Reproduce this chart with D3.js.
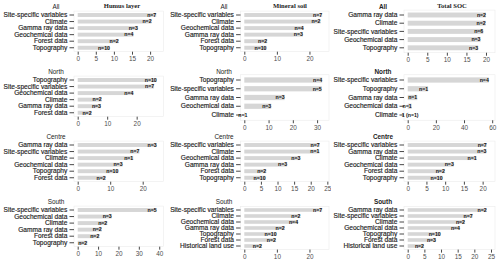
<!DOCTYPE html>
<html>
<head>
<meta charset="utf-8">
<script src="https://cdn.jsdelivr.net/npm/d3@7"></script>
<style>
  body { margin: 0; background: #fff; }
  svg { display: block; }
  text { font-family: "Liberation Sans", Arial, sans-serif; }
</style>
</head>
<body>
<div id="chart"></div>
<script>
// ---- data ----
const columnTitles = ["Humus layer", "Mineral soil", "Total SOC"];
const regions = ["All", "North", "Centre", "South"];

// Humus layer
const humusAllCats = ["Site-specific variables", "Climate", "Gamma ray data", "Geochemical data", "Forest data", "Topography"];
const humusAllVals = [21.7, 20.4, 16.6, 15.4, 11.3, 8.9];
const humusAllN = ["n=7", "n=2", "n=3", "n=4", "n=2", "n=10"];

const humusNorthCats = ["Topography", "Site-specific variables", "Geochemical data", "Climate", "Gamma ray data", "Forest data"];
const humusNorthVals = [26.8, 25.9, 18.9, 8.1, 7.9, 4.7];
const humusNorthN = ["n=10", "n=7", "n=4", "n=2", "n=3", "n=2"];

const humusCentreCats = ["Gamma ray data", "Site-specific variables", "Climate", "Geochemical data", "Topography", "Forest data"];
const humusCentreVals = [24.3, 19.0, 17.1, 13.8, 12.5, 8.6];
const humusCentreN = ["n=3", "n=7", "n=1", "n=3", "n=10", "n=2"];

const humusSouthCats = ["Site-specific variables", "Geochemical data", "Climate", "Gamma ray data", "Forest data", "Topography"];
const humusSouthVals = [38.7, 16.7, 14.5, 11.8, 10.6, 4.7];
const humusSouthN = ["n=5", "n=3", "n=2", "n=2", "n=2", "n=2"];

// Mineral soil
const mineralAllCats = ["Site-specific variables", "Climate", "Geochemical data", "Gamma ray data", "Forest data", "Topography"];
const mineralAllVals = [23.9, 23.4, 18.2, 18.0, 7.0, 6.8];
const mineralAllN = ["n=7", "n=2", "n=4", "n=3", "n=2", "n=10"];

const mineralNorthCats = ["Topography", "Site-specific variables", "Gamma ray data", "Geochemical data", "Climate"];
const mineralNorthVals = [32.1, 31.9, 16.6, 11.1, 0.3];
const mineralNorthN = ["n=4", "n=5", "n=3", "n=3", "n=1"];

const mineralCentreCats = ["Site-specific variables", "Climate", "Geochemical data", "Gamma ray data", "Forest data", "Topography"];
const mineralCentreVals = [22.7, 22.6, 16.9, 12.9, 6.6, 6.4];
const mineralCentreN = ["n=7", "n=1", "n=3", "n=3", "n=2", "n=10"];

const mineralSouthCats = ["Site-specific variables", "Climate", "Geochemical data", "Gamma ray data", "Topography", "Forest data", "Historical land use"];
const mineralSouthVals = [23.9, 17.2, 16.5, 12.4, 9.9, 9.7, 5.4];
const mineralSouthN = ["n=7", "n=2", "n=4", "n=2", "n=10", "n=2", "n=2"];

// Total SOC
const socAllCats = ["Gamma ray data", "Climate", "Site-specific variables", "Geochemical data", "Topography"];
const socAllVals = [20.0, 19.9, 19.3, 18.6, 18.0];
const socAllN = ["n=2", "n=2", "n=6", "n=3", "n=3"];

const socNorthCats = ["Site-specific variables", "Topography", "Gamma ray data", "Geochemical data", "Climate"];
const socNorthVals = [57.6, 14.5, 6.8, 2.8, 0.5];
const socNorthN = ["n=4", "n=1", "n=1", "n=1", "1 (n=1)"];

const socCentreCats = ["Site-specific variables", "Gamma ray data", "Climate", "Geochemical data", "Forest data", "Topography"];
const socCentreVals = [21.1, 21.0, 18.4, 12.3, 9.9, 9.3];
const socCentreN = ["n=7", "n=3", "n=1", "n=3", "n=2", "n=10"];

const socSouthCats = ["Gamma ray data", "Site-specific variables", "Climate", "Geochemical data", "Topography", "Forest data", "Historical land use"];
const socSouthVals = [23.7, 19.5, 17.2, 15.7, 9.9, 8.5, 4.9];
const socSouthN = ["n=2", "n=7", "n=2", "n=4", "n=10", "n=3", "n=2"];

// x axis domain max and ticks for each panel
const xMax = [
  [23.7, 29.1, 26.4, 42.1],
  [26.0, 34.9, 25.5, 26.0],
  [22.3, 62.0, 23.3, 26.2]
];
const xTicks = [
  [[0, 5, 10, 15, 20], [0, 10, 20], [0, 10, 20], [0, 10, 20, 30, 40]],
  [[0, 10, 20], [0, 10, 20, 30], [0, 5, 10, 15, 20, 25], [0, 10, 20]],
  [[0, 5, 10, 15, 20], [0, 20, 40, 60], [0, 5, 10, 15, 20], [0, 5, 10, 15, 20, 25]]
];

const panelData = [
  [[humusAllCats, humusAllVals, humusAllN], [humusNorthCats, humusNorthVals, humusNorthN],
   [humusCentreCats, humusCentreVals, humusCentreN], [humusSouthCats, humusSouthVals, humusSouthN]],
  [[mineralAllCats, mineralAllVals, mineralAllN], [mineralNorthCats, mineralNorthVals, mineralNorthN],
   [mineralCentreCats, mineralCentreVals, mineralCentreN], [mineralSouthCats, mineralSouthVals, mineralSouthN]],
  [[socAllCats, socAllVals, socAllN], [socNorthCats, socNorthVals, socNorthN],
   [socCentreCats, socCentreVals, socCentreN], [socSouthCats, socSouthVals, socSouthN]]
];

// ---- layout ----
const W = 500, H = 264;
const cols = [
  { left: 0,   x0: 77.7,  right: 163.5, regionX: 56,  titleX: 122, boldRegion: false },
  { left: 166, x0: 244.3, right: 329,   regionX: 224, titleX: 290, boldRegion: false },
  { left: 331, x0: 407.7, right: 495,   regionX: 383, titleX: 452, boldRegion: true }
];
const rowY = [0, 65, 130, 195];

function stepFor(n, r) {
  if (n === 5) return r === 0 ? 8.2 : 8.75;
  if (n === 7) return 6.0;
  return 6.55;
}

const svg = d3.select("#chart").append("svg")
  .attr("width", W)
  .attr("height", H);

svg.append("rect").attr("width", W).attr("height", H).attr("fill", "#fff");

cols.forEach((c, ci) => {
  const g = svg.append("g").attr("class", "col");
  g.append("rect")
    .attr("x", c.left).attr("y", 0)
    .attr("width", (ci < 2 ? cols[ci + 1].left : W) - c.left)
    .attr("height", H)
    .attr("fill", "#fff");

  g.append("text")
    .attr("x", c.titleX).attr("y", 7.5)
    .attr("text-anchor", "middle")
    .style("font-family", "'Liberation Serif', 'Times New Roman', serif")
    .style("font-weight", "bold")
    .style("font-size", "6.6px")
    .attr("fill", "#222")
    .text(columnTitles[ci]);

  rowY.forEach((ry, ri) => {
    const [cats, vals, labels] = panelData[ci][ri];
    const n = cats.length;
    const s = stepFor(n, ri);
    const top = ry + 15 - 0.6 * s;
    const bottom = top + s * (n + 0.2);
    const panelLeft = c.x0 - 3.7;

    const x = d3.scaleLinear()
      .domain([0, xMax[ci][ri]])
      .range([c.x0, c.right]);

    const y = d3.scaleBand()
      .domain(cats)
      .range([top, bottom])
      .paddingInner(0.4)
      .paddingOuter(0.3);

    const p = g.append("g").attr("class", "panel");

    // region label
    p.append("text")
      .attr("x", c.regionX).attr("y", ry + 8.5)
      .attr("text-anchor", "middle")
      .style("font-size", "6.4px")
      .style("font-weight", c.boldRegion ? "bold" : "normal")
      .attr("fill", "#222")
      .text(regions[ri]);

    // panel box
    p.append("rect")
      .attr("x", panelLeft).attr("y", top)
      .attr("width", c.right - panelLeft)
      .attr("height", bottom - top)
      .attr("fill", "#fff")
      .attr("stroke", "#ececec")
      .attr("stroke-width", 0.6);

    // bars
    p.selectAll(".bar")
      .data(vals)
      .enter().append("rect")
      .attr("class", "bar")
      .attr("x", c.x0)
      .attr("y", (d, i) => y(cats[i]))
      .attr("width", d => x(d) - c.x0)
      .attr("height", y.bandwidth())
      .attr("fill", "#d6d6d6");

    // y axis (ticks + category labels)
    const axisY = d3.axisLeft(y).tickSize(4.5).tickPadding(2.2);
    const yNode = p.append("g")
      .attr("transform", `translate(${panelLeft},0)`)
      .call(axisY);
    yNode.select(".domain").remove();
    yNode.selectAll(".tick line").attr("stroke", "#333").attr("stroke-width", 0.9);
    yNode.selectAll(".tick text")
      .style("font-size", "6.6px")
      .style("font-family", "'Liberation Sans', Arial, sans-serif")
      .attr("fill", "#222")
      .attr("stroke", "#222")
      .attr("stroke-width", 0.15);

    // x axis
    const axisX = d3.axisBottom(x).tickValues(xTicks[ci][ri]).tickSize(3).tickPadding(1.8);
    const xNode = p.append("g")
      .attr("transform", `translate(0,${bottom})`)
      .call(axisX);
    xNode.select(".domain").remove();
    xNode.selectAll(".tick line").attr("stroke", "#333").attr("stroke-width", 0.9);
    xNode.selectAll(".tick text")
      .style("font-size", "6.4px")
      .style("font-family", "'Liberation Sans', Arial, sans-serif")
      .attr("fill", "#4d4d4d");

    // n labels at bar ends
    const lab = p.selectAll(".nlab")
      .data(vals)
      .enter().append("text")
      .attr("class", "nlab")
      .attr("y", (d, i) => y(cats[i]) + y.bandwidth() / 2)
      .attr("dy", "0.35em")
      .attr("text-anchor", "end")
      .style("font-size", "5.2px")
      .style("font-weight", "bold")
      .attr("fill", "#111")
      .text((d, i) => labels[i]);
    lab.attr("x", function(d) {
      const w = this.getComputedTextLength();
      return Math.max(x(d), c.x0 + w - 6);
    });
  });
});
</script>
</body>
</html>
